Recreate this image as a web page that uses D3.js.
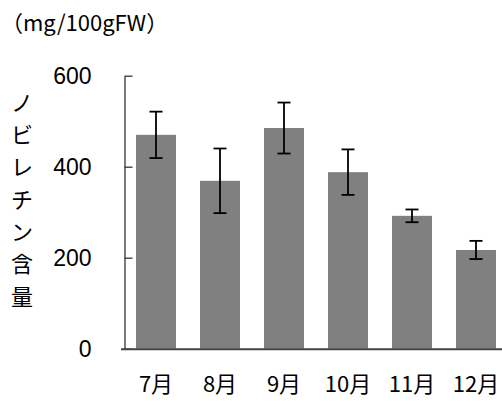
<!DOCTYPE html>
<html>
<head>
<meta charset="utf-8">
<script src="https://cdn.jsdelivr.net/npm/d3@7"></script>
<style>
  body { margin: 0; background: #fff; }
  svg { display: block; }
</style>
</head>
<body>
<svg id="chart" width="502" height="401"></svg>
<script>
const months = ['7月', '8月', '9月', '10月', '11月', '12月']
const nobiletin = [470, 369, 485, 388, 292, 217]
const errors = [51, 71, 56, 50, 14, 20]
const yTicks = [0, 200, 400, 600]
const yLabel = 'ノビレチン含量'
const unitLabel = '（mg/100gFW）'

const data = months.map((m, i) => ({ month: m, value: nobiletin[i], err: errors[i] }))

const svg = d3.select('#chart')

const x = d3.scaleBand()
  .domain(months)
  .range([124, 508])
  .paddingInner(0.375)
  .paddingOuter(0.1875)

const y = d3.scaleLinear()
  .domain([0, 600])
  .range([348.7, 75.7])

// bars
svg.append('g')
  .selectAll('rect')
  .data(data)
  .enter().append('rect')
  .attr('x', d => x(d.month))
  .attr('y', d => y(d.value))
  .attr('width', x.bandwidth())
  .attr('height', d => y(0) - y(d.value))
  .attr('fill', '#808080')

// error bars
const eb = svg.append('g')
  .attr('stroke', '#000')
  .attr('stroke-width', 1.8)
  .selectAll('g')
  .data(data)
  .enter().append('g')
  .attr('transform', d => `translate(${x(d.month) + x.bandwidth() / 2},0)`)

eb.append('line')
  .attr('y1', d => y(d.value + d.err))
  .attr('y2', d => y(d.value - d.err))
eb.append('line')
  .attr('x1', -6.5).attr('x2', 6.5)
  .attr('y1', d => y(d.value + d.err))
  .attr('y2', d => y(d.value + d.err))
eb.append('line')
  .attr('x1', -6.5).attr('x2', 6.5)
  .attr('y1', d => y(d.value - d.err))
  .attr('y2', d => y(d.value - d.err))

// y axis, ticks pointing inward
const yAxis = svg.append('g')
  .attr('transform', 'translate(124.5,0)')
  .call(d3.axisLeft(y).tickValues(yTicks).tickSizeInner(-8).tickSizeOuter(0).tickPadding(33))
yAxis.select('.domain').attr('stroke', '#333').attr('stroke-width', 1.3)
yAxis.selectAll('.tick line').attr('stroke', '#333').attr('stroke-width', 1.3)
yAxis.selectAll('.tick text')
  .attr('fill', '#000')
  .style('font-family', '"Liberation Sans", Arial, sans-serif')
  .style('font-size', '23px')

// x axis
const xAxis = svg.append('g')
  .attr('transform', `translate(0,${y(0) + 0.5})`)
  .call(d3.axisBottom(x).tickSize(0).tickPadding(27))
xAxis.select('.domain').attr('stroke', '#444').attr('stroke-width', 2)
  .attr('d', 'M121,0H508')
xAxis.selectAll('.tick text')
  .attr('fill', '#000')
  .style('font-family', '"Noto Sans CJK JP", sans-serif')
  .style('font-size', '22px')

// vertical y label
svg.append('g')
  .selectAll('text')
  .data(Array.from(yLabel))
  .enter().append('text')
  .attr('x', 22)
  .attr('y', (d, i) => 103 + i * 32.3)
  .attr('dy', '0.35em')
  .attr('text-anchor', 'middle')
  .style('font-family', '"Noto Sans CJK JP", sans-serif')
  .style('font-size', '22px')
  .text(d => d)

// unit label
svg.append('text')
  .attr('x', 1)
  .attr('y', 31)
  .style('font-family', '"Noto Sans CJK JP", sans-serif')
  .style('font-size', '22px')
  .text(unitLabel)
</script>
</body>
</html>
